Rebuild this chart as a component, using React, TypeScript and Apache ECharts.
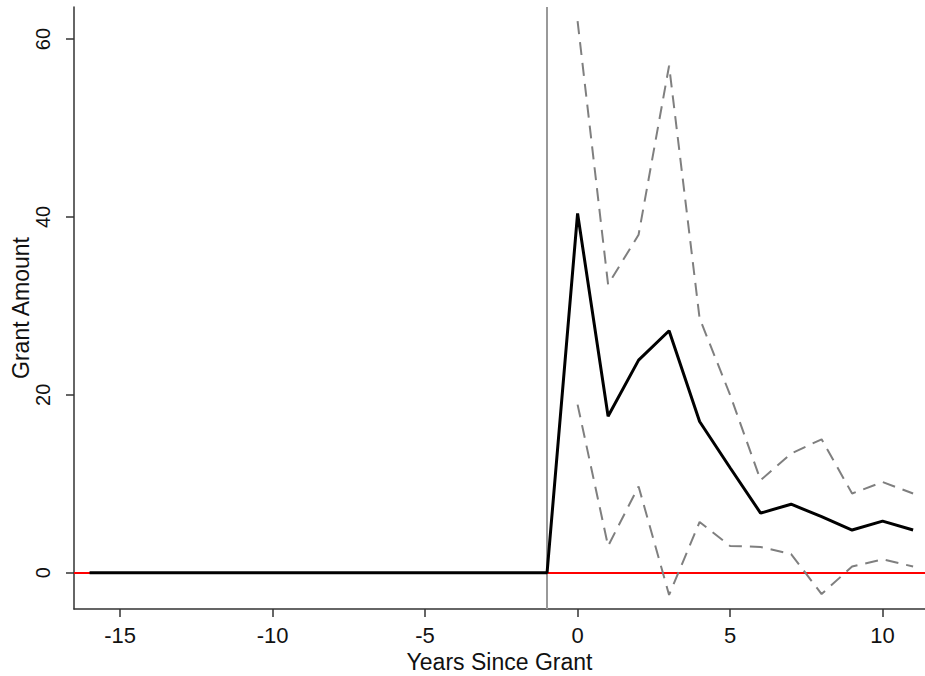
import React, { useEffect, useRef } from "react";
import * as echarts from "echarts";

const years = [-16, -15, -14, -13, -12, -11, -10, -9, -8, -7, -6, -5, -4, -3, -2, -1, 0, 1, 2, 3, 4, 5, 6, 7, 8, 9, 10, 11];
const estimate = [0, 0, 0, 0, 0, 0, 0, 0, 0, 0, 0, 0, 0, 0, 0, 0, 40.4, 17.6, 23.9, 27.2, 17.0, 11.8, 6.7, 7.7, 6.3, 4.8, 5.8, 4.8];
const ciYears = [0, 1, 2, 3, 4, 5, 6, 7, 8, 9, 10, 11];
const upper = [62.0, 32.4, 38.0, 57.0, 28.6, 20.0, 10.4, 13.4, 15.0, 8.9, 10.2, 8.9];
const lower = [18.9, 3.0, 9.7, -2.5, 5.7, 3.0, 2.9, 2.1, -2.4, 0.7, 1.5, 0.7];
const xTicks = [-15, -10, -5, 0, 5, 10];
const yTicks = [0, 20, 40, 60];
const grantYear = -1;

const FONT = '"Liberation Sans", Arial, Helvetica, sans-serif';

export default function App() {
  const ref = useRef<HTMLDivElement>(null);
  useEffect(() => {
    if (!ref.current) return;
    const chart = echarts.init(ref.current, undefined, { renderer: "svg" });
    const pair = (xs: number[], ys: number[]) => xs.map((x, i) => [x, ys[i]]);
    const axisLine = { show: true, onZero: false, lineStyle: { color: "#333", width: 1.5 } };
    chart.setOption({
      animation: false,
      backgroundColor: "#ffffff",
      grid: { left: 74, right: 0, top: 7, bottom: 67, containLabel: false, outerBoundsMode: "none" },
      xAxis: {
        type: "value",
        min: -16.51,
        max: 11.39,
        name: "Years Since Grant",
        nameLocation: "middle",
        nameGap: 41,
        nameMoveOverlap: false,
        nameTextStyle: { fontFamily: FONT, fontSize: 23, color: "#111" },
        axisLine,
        axisTick: { show: true, length: 8, customValues: xTicks, lineStyle: { color: "#333", width: 1.5 } },
        axisLabel: { customValues: xTicks, fontFamily: FONT, fontSize: 22, color: "#111", margin: 15 },
        splitLine: { show: false },
      },
      yAxis: {
        type: "value",
        min: -4.08,
        max: 63.6,
        name: "Grant Amount",
        nameLocation: "middle",
        nameRotate: 90,
        nameGap: 42,
        nameMoveOverlap: false,
        nameTextStyle: { fontFamily: FONT, fontSize: 23, color: "#111" },
        axisLine,
        axisTick: { show: true, length: 8, customValues: yTicks, lineStyle: { color: "#333", width: 1.5 } },
        axisLabel: { customValues: yTicks, rotate: 90, fontFamily: FONT, fontSize: 20, color: "#111", margin: 21 },
        splitLine: { show: false },
      },
      series: [
        {
          type: "line",
          name: "lower",
          data: pair(ciYears, lower),
          symbol: "none",
          z: 2,
          lineStyle: { color: "#7f7f7f", width: 2, type: [13, 8] },
          markLine: {
            silent: true,
            z: 1,
            symbol: "none",
            label: { show: false },
            data: [
              { yAxis: 0, lineStyle: { color: "#ff0000", width: 2, type: "solid" } },
              { xAxis: grantYear, lineStyle: { color: "#999999", width: 2, type: "solid" } },
            ],
          },
        },
        {
          type: "line",
          name: "upper",
          data: pair(ciYears, upper),
          symbol: "none",
          z: 3,
          lineStyle: { color: "#7f7f7f", width: 2, type: [13, 8] },
        },
        {
          type: "line",
          name: "estimate",
          data: pair(years, estimate),
          symbol: "none",
          z: 4,
          lineStyle: { color: "#000000", width: 3 },
        },
      ],
    });
    return () => chart.dispose();
  }, []);
  return <div ref={ref} style={{ position: "absolute", left: 0, top: 0, width: 925, height: 676 }} />;
}
